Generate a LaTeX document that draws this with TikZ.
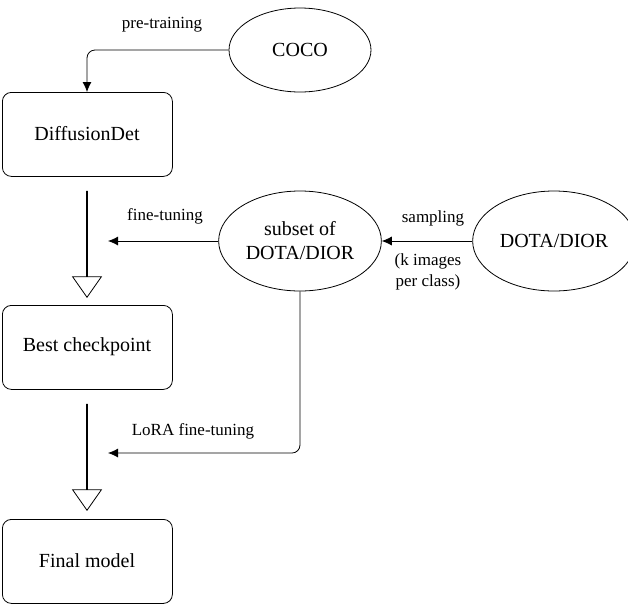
\documentclass[tikz,border=0pt]{standalone}
\usepackage{fontspec}
\setmainfont{Liberation Serif}
\usetikzlibrary{shapes.geometric,shapes.arrows,arrows.meta}
\begin{document}
\begin{tikzpicture}[x=1pt,y=-1pt,
  box/.style={draw,thick,rounded corners=9pt,minimum width=170pt,minimum height=84pt,font=\fontsize{20}{24}\selectfont,anchor=north west},
  ell/.style={draw,thick,ellipse,minimum width=142pt,font=\fontsize{20}{24}\selectfont,align=center},
  lab/.style={font=\fontsize{17}{21}\selectfont,align=center},
  con/.style={draw,thick,-{Latex[length=10pt,width=9pt]},rounded corners=8pt},
  big/.style={draw,thick,single arrow,shape border rotate=270,single arrow head extend=14pt,minimum width=18pt,single arrow tip angle=70,inner sep=0pt}]
\useasboundingbox (0,0) rectangle (628,606);
\node[ell,minimum height=84pt] (coco) at (300,50) {COCO};
\node[box] (dd) at (2,92) {};
\node[font=\fontsize{20}{24}\selectfont] at (87,134) {DiffusionDet};
\node[box] (bc) at (2,305) {};
\node[font=\fontsize{20}{24}\selectfont] at (87,347) {Best checkpoint};
\node[box] (fm) at (2,519) {};
\node[font=\fontsize{20}{24}\selectfont] at (87,561) {Final model};
\node[ell,minimum height=100pt] (sub) at (300,241) {subset of\\DOTA/DIOR};
\node[ell,minimum height=100pt] (dota) at (554,241) {DOTA/DIOR};
\coordinate (c1) at (87,50);
\coordinate (ft) at (108,241);
\coordinate (l1) at (300,453);
\coordinate (lt) at (108,453);
\draw[con] (coco.west) -- (c1) -- (dd.north west -| c1);
\node[lab] at (162,25) {pre-training};
\draw[con] (sub.west) -- (ft);
\node[lab] at (165,216) {fine-tuning};
\draw[con] (dota.west) -- (sub.east);
\node[lab] at (433,218) {sampling};
\node[lab] at (428,272) {(k images\\per class)};
\draw[con] (sub.south) -- (l1) -- (lt);
\node[lab] at (193,431) {LoRA fine-tuning};
\node[big,minimum height=106pt] (a1) at (87,244) {};
\node[big,minimum height=106pt] (a2) at (87,457) {};
\end{tikzpicture}
\end{document}
